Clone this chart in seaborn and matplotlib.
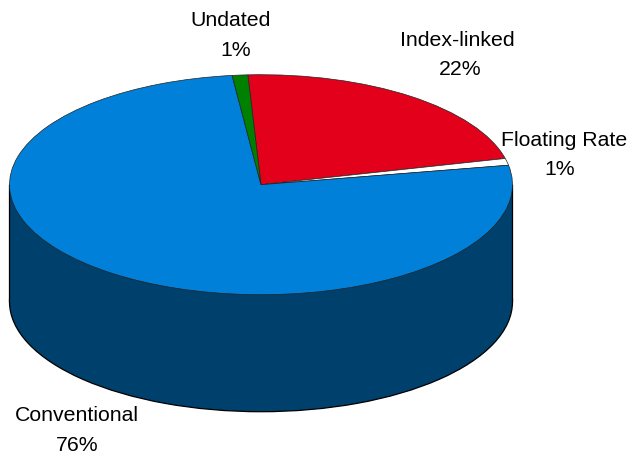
import matplotlib
matplotlib.use("Agg")
import matplotlib.pyplot as plt
from matplotlib.patches import Rectangle
import seaborn as sns

# Share of the debt portfolio by instrument type, clockwise from the top
categories = ["Index-linked", "Floating Rate", "Conventional", "Undated"]
shares = [22, 1, 76, 1]
share_labels = ["22%", "1%", "76%", "1%"]
slice_colors = ["#E2001A", "#FFFFFF", "#0080D8", "#008000"]
wall_color = "#00406C"

sns.set_theme(style="white")
plt.rcParams["font.family"] = ["Liberation Sans", "DejaVu Sans"]

W, H = 628, 460
fig = plt.figure(figsize=(W / 100, H / 100), dpi=100, facecolor="white")
ax = fig.add_axes([0, 0, 1, 1])
palette = sns.color_palette(slice_colors)

# Disc geometry in pixels; the axis limits squash a unit circle into the tilted ellipse
cx, cy, rx, ry, depth = 261.0, 185.7, 251.5, 110.0, 117.0
depth_u = depth / ry
start = 93

# Cylinder wall: lower disc plus a rectangle up to the disc's widest line
ax.pie([1], radius=1, center=(0, -depth_u), colors=[wall_color], startangle=0,
       wedgeprops=dict(edgecolor="black", linewidth=0.9, zorder=1, snap=False))
ax.add_patch(Rectangle((-1, -depth_u), 2, depth_u, facecolor=wall_color,
                       edgecolor="none", zorder=1.5, snap=False))
for side in (-1, 1):
    ax.plot([side, side], [-depth_u, 0], color="black", lw=0.9, zorder=1.6,
            snap=False, solid_capstyle="butt")

# Top face
wedges, _ = ax.pie(shares, radius=1, center=(0, 0), colors=palette, startangle=start,
                   counterclock=False,
                   wedgeprops=dict(edgecolor="#222222", linewidth=0.5, zorder=2))

ax.set_aspect("auto")
ax.set_xlim(-cx / rx, (W - cx) / rx)
ax.set_ylim(-(H - cy) / ry, cy / ry)
ax.set_axis_off()

# Two-line captions around the disc: name above, share below
name_xy = [(457, 40.5), (564, 140.5), (77, 416), (231, 21)]
share_xy = [(460, 69.5), (560, 169.5), (77, 446), (236, 51)]
for name, pct, (nx, ny), (px, py) in zip(categories, share_labels, name_xy, share_xy):
    fig.text(nx / W, 1 - ny / H, name, ha="center", va="center", fontsize=15.3, color="black")
    fig.text(px / W, 1 - py / H, pct, ha="center", va="center", fontsize=15.3, color="black")

fig.savefig("out.png", dpi=100)
